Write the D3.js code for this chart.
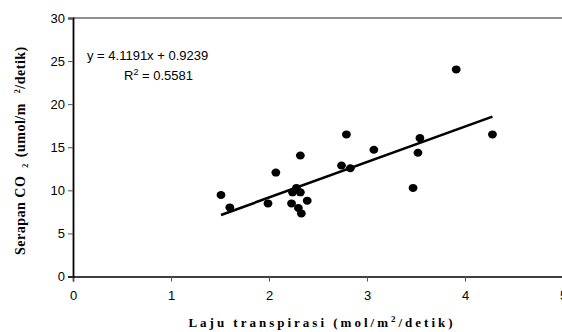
<!DOCTYPE html>
<html>
<head>
<meta charset="utf-8">
<script src="https://cdn.jsdelivr.net/npm/d3@7"></script>
<style>
  body { margin: 0; background: #fff; }
  svg { display: block; }
  .tick text { font-family: "Liberation Sans", Arial, sans-serif; font-size: 13px; fill: #000; }
</style>
</head>
<body>
<div id="vis"></div>
<script>
// data
var transpirasi = [1.51, 1.60, 1.99, 2.07, 2.32, 2.79, 3.07, 2.74, 2.83, 2.28, 2.24,
                   2.32, 2.23, 2.30, 2.33, 2.39, 3.91, 4.28, 3.54, 3.52, 3.47];
var serapan = [9.46, 8.02, 8.48, 12.06, 14.04, 16.49, 14.71, 12.88, 12.56, 10.28, 9.77,
               9.77, 8.48, 7.95, 7.32, 8.80, 24.03, 16.49, 16.06, 14.36, 10.28];
var xTicks = [0, 1, 2, 3, 4, 5];
var yTicks = [0, 5, 10, 15, 20, 25, 30];
var slope = 4.1191, intercept = 0.9239, rSquared = 0.5581;

var width = 562, height = 332;
var margin = {top: 18, left: 73, bottom: 56, right: -1};

var svg = d3.select("#vis").append("svg")
    .attr("width", width)
    .attr("height", height);

var x = d3.scaleLinear().domain([0, 5]).range([margin.left, width - margin.right]);
var y = d3.scaleLinear().domain([0, 30]).range([height - margin.bottom + 0.5, margin.top]);

// top frame line
svg.append("line")
    .attr("x1", x(0)).attr("x2", x(5))
    .attr("y1", y(30)).attr("y2", y(30))
    .attr("stroke", "#222").attr("stroke-width", 1.2);

var xAxis = svg.append("g")
    .attr("transform", "translate(0," + y(0) + ")")
    .call(d3.axisBottom(x).tickValues(xTicks).tickSize(5).tickPadding(9).tickFormat(d3.format("d")));
xAxis.select(".domain").attr("stroke", "#000").attr("stroke-width", 1.6);
xAxis.selectAll(".tick line").attr("stroke", "#555");

var yAxis = svg.append("g")
    .attr("transform", "translate(" + x(0) + ",0)")
    .call(d3.axisLeft(y).tickValues(yTicks).tickSize(5).tickPadding(3).tickFormat(d3.format("d")));
yAxis.select(".domain").attr("stroke", "#000").attr("stroke-width", 1.8);
yAxis.selectAll(".tick line").attr("stroke", "#555");

// trend line over data range
var xMin = d3.min(transpirasi), xMax = d3.max(transpirasi);
svg.append("line")
    .attr("x1", x(xMin)).attr("y1", y(slope * xMin + intercept))
    .attr("x2", x(xMax)).attr("y2", y(slope * xMax + intercept))
    .attr("stroke", "#000").attr("stroke-width", 2.6);

svg.selectAll(".pt")
    .data(d3.range(transpirasi.length))
    .enter().append("ellipse")
    .attr("class", "pt")
    .attr("cx", function(i){ return x(transpirasi[i]); })
    .attr("cy", function(i){ return y(serapan[i]); })
    .attr("rx", 4.4).attr("ry", 4)
    .attr("fill", "#000");

// equation
var eq = svg.append("g")
    .attr("font-family", "Liberation Sans, Arial, sans-serif")
    .attr("font-size", 13);
eq.append("text").attr("x", 87).attr("y", 60)
    .text("y = " + slope + "x + " + intercept);
var r2 = eq.append("text").attr("x", 124).attr("y", 80);
r2.append("tspan").text("R");
r2.append("tspan").attr("font-size", 9).attr("dy", -5).text("2");
r2.append("tspan").attr("dy", 5).text(" = " + rSquared);

// axis titles
var xl = svg.append("text")
    .attr("x", 322).attr("y", 327)
    .attr("text-anchor", "middle")
    .attr("font-family", "Liberation Serif, Times New Roman, serif")
    .attr("font-weight", "bold").attr("font-size", 13)
    .attr("letter-spacing", 3.0);
xl.append("tspan").text("Laju transpirasi (mol/m");
xl.append("tspan").attr("font-size", 9).attr("dy", -5).text("2");
xl.append("tspan").attr("dy", 5).text("/detik)");

var yl = svg.append("text")
    .attr("transform", "translate(25,255) rotate(-90)")
    .attr("text-anchor", "start")
    .attr("font-family", "Liberation Serif, Times New Roman, serif")
    .attr("font-weight", "bold").attr("font-size", 14)
    .attr("letter-spacing", 0.5);
yl.append("tspan").text("Serapan CO");
yl.append("tspan").attr("font-size", 8).attr("dx", 8).attr("dy", 3).text("2");
yl.append("tspan").attr("dx", 6).attr("dy", -3).text("(umol/m");
yl.append("tspan").attr("font-size", 8).attr("dx", 10).attr("dy", -5).text("2");
yl.append("tspan").attr("dy", 5).text("/detik)");
</script>
</body>
</html>
